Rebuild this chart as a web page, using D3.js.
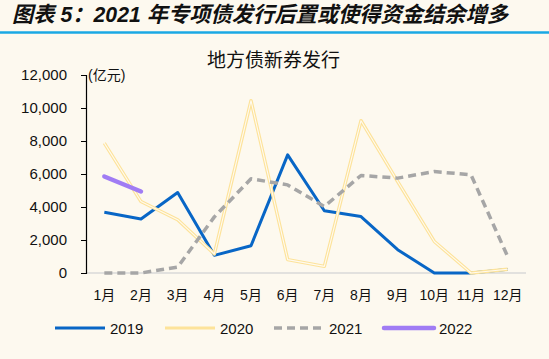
<!DOCTYPE html>
<html>
<head>
<meta charset="utf-8">
<script src="https://cdn.jsdelivr.net/npm/d3@7"></script>
<style>
  body { margin: 0; background: #fdf9ef; }
  svg { display: block; font-family: "Liberation Sans", Arial, "Noto Sans CJK SC", sans-serif; }
</style>
</head>
<body>
<div class="content"></div>
<script>
(function() {

  // Data
  var months = ['1月', '2月', '3月', '4月', '5月', '6月', '7月', '8月', '9月', '10月', '11月', '12月'];
  var s2019 = [3680, 3270, 4880, 1070, 1650, 7160, 3770, 3420, 1410, 0, 0, 220];
  var s2020 = [7870, 4330, 3230, 1150, 10440, 810, 400, 9230, 5540, 1910, 0, 230];
  var s2021 = [0, 0, 360, 3400, 5710, 5340, 4030, 5910, 5750, 6150, 5950, 1000];
  var s2022 = [5850, 4940];
  var yTicks = [0, 2000, 4000, 6000, 8000, 10000, 12000];
  var seriesNames = ['2019', '2020', '2021', '2022'];

  // Design
  var width = 549, height = 359;
  var plot = {left: 86, right: 526, top: 75, bottom: 273};

  var svg = d3.select(".content").append("svg")
      .attr("width", width)
      .attr("height", height);

  svg.append("rect").attr("width", width).attr("height", height).attr("fill", "#fdf9ef");

  // Header
  svg.append("text")
      .attr("x", 12).attr("y", 22)
      .attr("font-size", 21.5).attr("font-weight", "bold").attr("font-style", "italic")
      .attr("fill", "#111")
      .attr("textLength", 496).attr("lengthAdjust", "spacingAndGlyphs")
      .text("图表 5：2021 年专项债发行后置或使得资金结余增多");

  svg.append("line")
      .attr("x1", 0).attr("x2", width).attr("y1", 32.5).attr("y2", 32.5)
      .attr("stroke", "#1aa8e4").attr("stroke-width", 2.5);

  svg.append("text")
      .attr("x", 273.5).attr("y", 67)
      .attr("text-anchor", "middle")
      .attr("font-size", 19)
      .attr("font-family", "Noto Sans CJK SC")
      .attr("fill", "#111")
      .text("地方债新券发行");

  // Scales
  var x = d3.scalePoint().domain(months).range([plot.left, plot.right]).padding(0.5);
  var y = d3.scaleLinear().domain([0, 12000]).range([plot.bottom, plot.top]);

  // Zero line
  svg.append("line")
      .attr("x1", plot.left).attr("x2", plot.right)
      .attr("y1", y(0)).attr("y2", y(0))
      .attr("stroke", "#d9d9d9").attr("stroke-width", 1.5);

  // Y axis
  var yAxis = svg.append("g")
      .attr("transform", "translate(" + plot.left + ",0)")
      .call(d3.axisLeft(y).tickValues(yTicks).tickSize(5).tickFormat(d3.format(",")));
  yAxis.select(".domain").attr("stroke", "#000").attr("stroke-width", 1.2);
  yAxis.selectAll(".tick line").attr("stroke", "#000");
  yAxis.selectAll("text")
      .attr("x", -19)
      .attr("font-size", 15).attr("fill", "#111")
      .attr("font-family", "Liberation Sans, Arial, sans-serif");

  svg.append("text")
      .attr("x", 88).attr("y", 80)
      .attr("font-size", 14).attr("fill", "#111")
      .text("(亿元)");

  // X labels
  svg.append("g").selectAll("text")
      .data(months)
      .enter()
      .append("text")
      .attr("x", function(d) { return x(d); })
      .attr("y", 300)
      .attr("text-anchor", "middle")
      .attr("font-size", 14).attr("fill", "#111")
      .text(function(d) { return d; });

  var line = d3.line()
      .x(function(d, i) { return x(months[i]); })
      .y(function(d) { return y(d); });

  // 2019
  svg.append("path").datum(s2019)
      .attr("d", line).attr("fill", "none")
      .attr("stroke", "#0866c6").attr("stroke-width", 3).attr("stroke-linejoin", "round");

  // 2020 double line
  svg.append("path").datum(s2020)
      .attr("d", line).attr("fill", "none")
      .attr("stroke", "#fde39a").attr("stroke-width", 3.4).attr("stroke-linejoin", "round");
  svg.append("path").datum(s2020)
      .attr("d", line).attr("fill", "none")
      .attr("stroke", "#fffaf0").attr("stroke-width", 1.1).attr("stroke-linejoin", "round");

  // 2021
  svg.append("path").datum(s2021)
      .attr("d", line).attr("fill", "none")
      .attr("stroke", "#a6a6a6").attr("stroke-width", 3.5)
      .attr("stroke-dasharray", "8,5").attr("stroke-linejoin", "round");

  // 2022
  svg.append("path").datum(s2022)
      .attr("d", line).attr("fill", "none")
      .attr("stroke", "#a07cf4").attr("stroke-width", 4.5).attr("stroke-linecap", "round");

  // Legend
  var legendX = [55, 165, 274, 384];
  var legend = svg.append("g").selectAll("g")
      .data(seriesNames)
      .enter()
      .append("g")
      .attr("transform", function(d, i) { return "translate(" + legendX[i] + ",328)"; });

  legend.append("line")
      .attr("x1", 0).attr("x2", 50).attr("y1", 0).attr("y2", 0)
      .attr("stroke", function(d, i) { return ["#0866c6", "#fde39a", "#a6a6a6", "#a07cf4"][i]; })
      .attr("stroke-width", function(d, i) { return [3, 3.2, 3.5, 4.5][i]; })
      .attr("stroke-dasharray", function(d, i) { return i === 2 ? "8,5" : null; })
      .attr("stroke-linecap", function(d, i) { return i === 3 ? "round" : null; });

  legend.append("text")
      .attr("x", 55).attr("y", 6)
      .attr("font-size", 15).attr("fill", "#111")
      .text(function(d) { return d; });

})();
</script>
</body>
</html>
